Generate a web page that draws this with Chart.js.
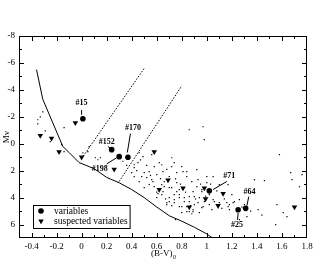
<!DOCTYPE html>
<html>
<head>
<meta charset="utf-8">
<script src="https://cdn.jsdelivr.net/npm/chart.js@4.4.0/dist/chart.umd.min.js"></script>
<style>
  html, body { margin: 0; padding: 0; background: #fff; }
  canvas { display: block; }
</style>
</head>
<body>
<canvas id="cmd" width="316" height="260"></canvas>
<script>
// axis ticks
const xTicks = [-0.4, -0.2, 0, 0.2, 0.4, 0.6, 0.8, 1, 1.2, 1.4, 1.6, 1.8];
const yTicks = [-8, -6, -4, -2, 0, 2, 4, 6];

// ZAMS (solid line)
const zamsX = [-0.36, -0.31, -0.15, -0.1, -0.02, 0.1, 0.2, 0.3, 0.4, 0.5, 0.6, 0.7, 0.8, 0.9, 1.0, 1.06];
const zamsY = [-5.5, -3.3, 0.2, 0.65, 1.4, 1.85, 2.5, 2.9, 3.4, 4.0, 4.7, 5.35, 5.75, 6.2, 6.7, 7.1];

// dotted lines
const band1X = [0.0, 0.5];
const band1Y = [1.1, -5.6];
const band2X = [0.3, 0.8];
const band2Y = [2.8, -4.3];

// field stars (small dots)
const fieldX = [
  -0.31, -0.33, -0.35, -0.35, -0.29, -0.14, -0.25, -0.16, -0.14, 0.05, 0.06, 0.11, 0.15, 0.01, 0.13,
  0.46, 0.49, 0.45, 0.42, 0.40, 0.56, 0.62, 0.58, 0.54, 0.50, 0.48, 0.52, 0.56, 0.60, 0.65, 0.72, 0.74,
  0.76, 0.70, 0.66, 0.64, 0.58, 0.54, 0.65, 0.72, 0.76, 0.78, 0.74, 0.70, 0.78, 0.82, 0.86, 0.89, 0.92,
  0.88, 0.84, 0.93, 0.96, 0.94, 0.90, 0.80, 0.84, 0.89, 0.97, 0.98, 0.74, 0.68, 0.60,
  0.42, 0.57, 0.46, 0.42, 0.50, 0.61, 0.66, 0.64, 0.70, 0.68,
  0.97, 0.98, 0.86, 0.64, 0.81, 0.92, 1.0, 1.10, 1.17, 1.20, 1.16, 1.18, 1.22, 1.26, 1.30, 1.32, 1.26,
  1.41, 1.46, 1.58, 1.56, 1.55, 1.61, 1.64, 1.76, 1.74, 1.68, 0.94, 0.86, 0.80, 0.75,
  1.0, 1.06, 1.04, 1.18, 1.67, 1.38, 1.05,
  0.72, 0.80, 0.84, 0.70, 0.76, 0.78, 0.74, 0.82, 0.86, 0.90, 0.93, 0.96, 0.89, 0.84, 0.78, 1.02, 1.05,
  1.10, 1.17, 1.21, 1.02, 0.96,
  0.44, 0.47, 0.52, 0.55, 0.63, 0.68, 0.75, 0.79, 0.83, 0.87, 0.91, 0.95, 0.99, 1.03, 1.08, 1.12, 1.14,
  1.28, 1.35, 1.44, 0.60, 0.67, 0.72, 0.88, 0.36, 0.33
];
const fieldY = [
  -2.37, -2.0, -1.78, -1.48, -0.96, -1.19, -0.15, 0.07, 0.59, 0.59, 0.22, 1.04, 1.04, 0.67, 1.19,
  0.67, 0.96, 1.41, 1.78, 2.15, 0.81, 1.41, 1.70, 2.07, 2.15, 2.44, 2.52, 2.67, 2.30, 2.07, 1.70, 1.41,
  2.15, 2.44, 2.81, 3.04, 3.19, 3.04, 3.56, 3.26, 2.89, 3.41, 3.78, 4.0, 4.0, 4.30, 3.93, 3.56, 3.19,
  2.81, 2.44, 2.67, 3.41, 4.0, 4.52, 4.67, 5.04, 5.04, 4.67, 4.30, 4.37, 4.37, 4.0,
  1.56, 2.81, 2.81, 2.44, 3.26, 3.7, 3.19, 3.78, 4.30, 4.52,
  -1.26, -0.30, -1.04, 1.56, 2.07, 1.93, 2.44, 3.04, 3.04, 3.78, 4.37, 4.89, 4.30, 4.15, 4.52, 5.41, 5.63,
  4.89, 2.74, 0.81, 4.52, 6.0, 5.11, 5.41, 2.30, 3.19, 2.67, 5.11, 5.04, 5.11, 5.63,
  2.89, 4.30, 4.89, 4.52, 2.15, 2.67, 2.44,
  1.04, 1.70, 2.07, 3.26, 3.56, 3.78, 4.15, 4.0, 4.30, 3.93, 4.37, 4.74, 4.89, 4.67, 4.67, 4.52, 4.15,
  4.37, 4.67, 4.37, 3.78, 3.56,
  2.0, 1.2, 1.6, 2.35, 2.6, 1.9, 2.6, 3.0, 3.6, 4.6, 4.1, 3.0, 3.9, 3.0, 3.5, 4.8, 4.1,
  4.7, 5.0, 5.3, 3.6, 4.1, 4.6, 5.2, 1.6, 1.3
];

// variables (filled circles)
const varNames = ['#15', '#152', '#198', '#170', '#71', '#64', '#25'];
const varX = [0.01, 0.24, 0.30, 0.37, 1.02, 1.31, 1.25];
const varY = [-1.85, 0.44, 0.96, 1.0, 3.5, 4.8, 4.9];
// label text centre and the leader line, per variable
const labelX = [0.0, 0.2, 0.145, 0.41, 1.18, 1.34, 1.24];
const labelY = [-3.0, -0.15, 1.9, -1.2, 2.4, 3.55, 6.0];
const leadX = [0.0, 0.21, 0.2, 0.39, 1.16, 1.335, 1.245];
const leadY = [-2.5, 0.2, 1.5, -0.75, 2.8, 3.93, 5.65];
const leadEndX = [0.0, 0.235, 0.28, 0.365, 1.05, 1.32, 1.25];
const leadEndY = [-2.15, 0.38, 1.04, 0.65, 3.4, 4.6, 5.15];

// suspected variables (down triangles)
const suspX = [-0.33, -0.24, -0.18, -0.05, 0.0, 0.26, 0.58, 0.69, 0.62, 0.81, 0.86, 0.98, 0.99, 1.09, 1.13, 1.70];
const suspY = [-0.6, -0.4, 0.6, -1.55, 1.0, 1.9, 0.6, 2.7, 3.4, 3.3, 4.7, 3.3, 4.1, 4.6, 3.7, 4.7];

const serif = "'Liberation Serif', 'Times New Roman', serif";
Chart.defaults.font.family = serif;
Chart.defaults.color = '#000';

function pts(xs, ys) {
  return xs.map((v, i) => ({ x: v, y: ys[i] }));
}

const varStyle = { pointStyle: 'circle', radius: 2.8, rotation: 0, backgroundColor: '#000', borderColor: '#000', borderWidth: 0 };
const suspStyle = { pointStyle: 'triangle', radius: 3.2, rotation: 180, backgroundColor: '#000', borderColor: '#000', borderWidth: 0 };

// frame, inward ticks, labels, legend, axis titles
const cmdDecor = {
  id: 'cmdDecor',
  afterDraw(chart) {
    const { ctx, chartArea: a, scales: { x, y } } = chart;
    ctx.save();
    ctx.strokeStyle = '#000';
    ctx.lineWidth = 1;
    ctx.strokeRect(a.left + 0.5, a.top + 0.5, a.right - a.left - 1, a.bottom - a.top - 1);

    ctx.beginPath();
    for (let k = -4; k <= 17; k++) {
      const px = Math.round(x.getPixelForValue(k / 10)) + 0.5;
      const len = k % 2 === 0 ? 5 : 3;
      ctx.moveTo(px, a.bottom); ctx.lineTo(px, a.bottom - len);
      ctx.moveTo(px, a.top); ctx.lineTo(px, a.top + len);
    }
    for (let k = -7; k <= 6; k++) {
      const py = Math.round(y.getPixelForValue(k)) + 0.5;
      const len = k % 2 === 0 ? 5 : 3;
      ctx.moveTo(a.left, py); ctx.lineTo(a.left + len, py);
      ctx.moveTo(a.right, py); ctx.lineTo(a.right - len, py);
    }
    ctx.stroke();

    // labelled variables
    ctx.beginPath();
    varNames.forEach((n, i) => {
      ctx.moveTo(x.getPixelForValue(leadX[i]), y.getPixelForValue(leadY[i]));
      ctx.lineTo(x.getPixelForValue(leadEndX[i]), y.getPixelForValue(leadEndY[i]));
    });
    ctx.stroke();
    ctx.fillStyle = '#000';
    ctx.font = 'bold 8px ' + serif;
    ctx.textAlign = 'center';
    ctx.textBaseline = 'middle';
    varNames.forEach((n, i) => {
      ctx.fillText(n, x.getPixelForValue(labelX[i]), y.getPixelForValue(labelY[i]));
    });

    // legend box
    ctx.font = '9.5px ' + serif;
    ctx.textAlign = 'left';
    const lx = a.left + 14, ly = a.bottom - 33;
    const tw = ctx.measureText('suspected variables').width;
    ctx.strokeRect(lx + 0.5, ly + 0.5, 21 + tw + 2, 23);
    Chart.helpers.drawPoint(ctx, varStyle, lx + 8, ly + 6);
    Chart.helpers.drawPoint(ctx, suspStyle, lx + 8, ly + 16);
    ctx.fillText('variables', lx + 21, ly + 6);
    ctx.fillText('suspected variables', lx + 21, ly + 16.5);

    // axis titles
    ctx.font = '9px ' + serif;
    ctx.textAlign = 'left';
    const tx = (a.left + a.right) / 2 - 12;
    ctx.fillText('(B-V)', tx, 254);
    const w = ctx.measureText('(B-V)').width;
    ctx.font = '6px ' + serif;
    ctx.fillText('0', tx + w + 0.5, 257);

    ctx.save();
    ctx.translate(7, (a.top + a.bottom) / 2);
    ctx.rotate(-Math.PI / 2);
    ctx.font = '9px ' + serif;
    ctx.textAlign = 'center';
    ctx.fillText('Mv', 0, 0);
    ctx.restore();

    ctx.restore();
  }
};

new Chart(document.getElementById('cmd'), {
  type: 'scatter',
  data: {
    datasets: [
      { label: 'ZAMS', data: pts(zamsX, zamsY), showLine: true, borderColor: '#000', borderWidth: 1, pointRadius: 0 },
      { label: 'band 1', data: pts(band1X, band1Y), showLine: true, borderColor: '#000', borderWidth: 1, borderDash: [1.5, 1.5], pointRadius: 0 },
      { label: 'band 2', data: pts(band2X, band2Y), showLine: true, borderColor: '#000', borderWidth: 1, borderDash: [1.5, 1.5], pointRadius: 0 },
      { label: 'field', data: pts(fieldX, fieldY), pointStyle: 'rect', pointRadius: 0.85, backgroundColor: '#000', borderWidth: 0 },
      { label: 'variables', data: pts(varX, varY), pointStyle: 'circle', pointRadius: 2.8, backgroundColor: '#000', borderWidth: 0 },
      { label: 'suspected variables', data: pts(suspX, suspY), pointStyle: 'triangle', rotation: 180, pointRadius: 3.2, backgroundColor: '#000', borderWidth: 0 }
    ]
  },
  options: {
    responsive: false,
    animation: false,
    events: [],
    layout: { padding: { top: 36, right: 9, left: 0, bottom: 0 } },
    plugins: { legend: { display: false }, tooltip: { enabled: false } },
    scales: {
      x: {
        type: 'linear', min: -0.5, max: 1.8,
        grid: { display: false, drawTicks: false },
        border: { display: false },
        afterBuildTicks: s => { s.ticks = xTicks.map(v => ({ value: v })); },
        ticks: { font: { size: 9 }, padding: 3, maxRotation: 0, autoSkip: false, callback: v => String(v) },
        afterFit: s => { s.height = 22; }
      },
      y: {
        type: 'linear', min: -8, max: 7, reverse: true,
        grid: { display: false, drawTicks: false },
        border: { display: false },
        afterBuildTicks: s => { s.ticks = yTicks.map(v => ({ value: v })); },
        ticks: { font: { size: 9 }, padding: 4, autoSkip: false, callback: v => String(v) },
        afterFit: s => { s.width = 19; }
      }
    }
  },
  plugins: [cmdDecor]
});
</script>
</body>
</html>
